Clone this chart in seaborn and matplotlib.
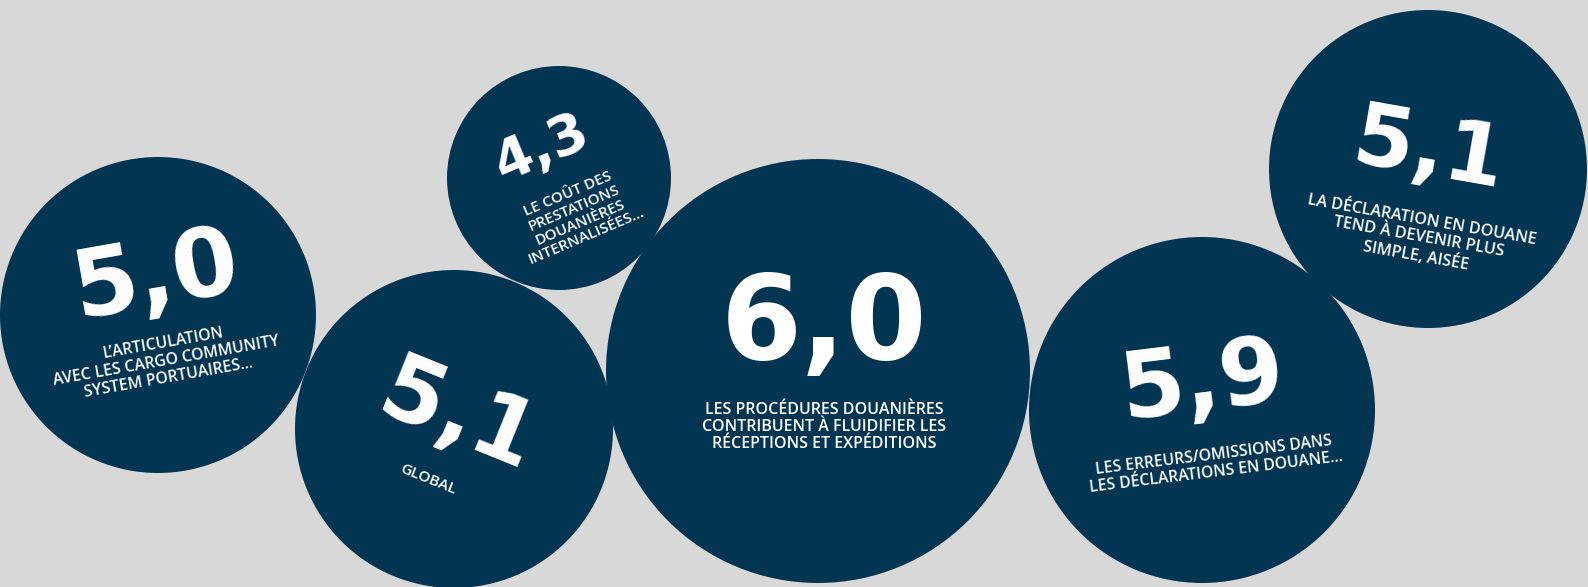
import matplotlib
matplotlib.use("Agg")
import matplotlib.pyplot as plt
import pandas as pd
import seaborn as sns

# Survey scores (scale out of 7) and the statement each one refers to
scores = [5.0, 4.3, 5.1, 6.0, 5.9, 5.1]
statements = [
    "L\u2019ARTICULATION\nAVEC LES CARGO COMMUNITY\nSYSTEM PORTUAIRES\u2026",
    "LE CO\u00dbT DES\nPRESTATIONS\nDOUANI\u00c8RES\nINTERNALIS\u00c9ES\u2026",
    "GLOBAL",
    "LES PROC\u00c9DURES DOUANI\u00c8RES\nCONTRIBUENT \u00c0 FLUIDIFIER LES\nR\u00c9CEPTIONS ET EXP\u00c9DITIONS",
    "LES ERREURS/OMISSIONS DANS\nLES D\u00c9CLARATIONS EN DOUANE\u2026",
    "LA D\u00c9CLARATION EN DOUANE\nTEND \u00c0 DEVENIR PLUS\nSIMPLE, AIS\u00c9E",
]

# Bubble layout (pixel units of the canvas)
bubble_x = [158, 559, 454, 818, 1202, 1428]
bubble_y = [315, 178, 429, 371, 410, 169]
bubble_r = [158, 112, 159, 212, 173, 159]
tilt = [10, 23, -22, 0, 7, -10]
num_dx = [-2, -17, 3, 6, 1, 1]
num_dy = [-37, -29, -10, -45, -27, -17]
num_size = [68, 40, 65, 84, 67, 62]
lab_dx = [8, 18, -26, 6, 13, -9]
lab_dy = [46, 37, 50, 56, 54, 69]
lab_size = [11.3, 11.0, 11.0, 11.5, 11.3, 11.6]

W, H, DPI = 1588, 587, 100
BG = "#d8d8d8"
NAVY = "#023552"

sns.set_style("white")
plt.rcParams["font.family"] = ["DejaVu Sans"]

df = pd.DataFrame({
    "x": bubble_x,
    "y": bubble_y,
    "key": [f"b{i}" for i in range(len(scores))],
    "score": scores,
    "text": statements,
})
# marker area in points^2 from the pixel radius
marker_area = {k: (2 * r * 72 / DPI) ** 2 for k, r in zip(df["key"], bubble_r)}

fig = plt.figure(figsize=(W / DPI, H / DPI), dpi=DPI, facecolor=BG)
ax = fig.add_axes([0, 0, 1, 1])
ax.set_facecolor(BG)

sns.scatterplot(data=df, x="x", y="y", size="key", sizes=marker_area,
                color=NAVY, linewidth=0, legend=False, ax=ax, zorder=2)

ax.set_xlim(0, W)
ax.set_ylim(H, 0)
ax.axis("off")

for i, row in df.iterrows():
    label = f"{row.score:.1f}".replace(".", ",")
    ax.text(row.x + num_dx[i], row.y + num_dy[i], label, color="white",
            fontsize=num_size[i], fontweight="bold",
            ha="center", va="center",
            rotation=tilt[i], rotation_mode="anchor", zorder=5)
    ax.text(row.x + lab_dx[i], row.y + lab_dy[i], row.text, color="white",
            family=["Open Sans", "DejaVu Sans"],
            fontsize=lab_size[i], fontweight="semibold", ha="center", va="center",
            multialignment="center", linespacing=1.12,
            rotation=tilt[i], rotation_mode="anchor", zorder=5)

fig.savefig("out.png", dpi=DPI, facecolor=BG)
